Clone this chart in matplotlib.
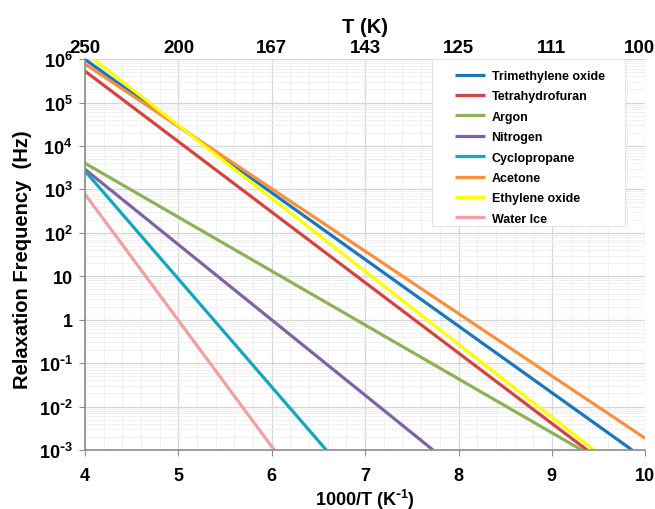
import numpy as np
import matplotlib
matplotlib.use("Agg")
import matplotlib.pyplot as plt
import matplotlib.transforms as mtransforms
from matplotlib.patches import Rectangle
from matplotlib.ticker import FixedLocator, NullFormatter

plt.rcParams['font.family'] = ['Liberation Sans', 'DejaVu Sans']
plt.rcParams['font.weight'] = 'bold'
plt.rcParams['mathtext.default'] = 'regular'

# ── Data: each line as (x0, log10 f0) -> (x1, log10 f1) ──────────────────────
names = ["Trimethylene oxide", "Tetrahydrofuran", "Argon", "Nitrogen",
         "Cyclopropane", "Acetone", "Ethylene oxide", "Water Ice"]
colors = ["#1A78B8", "#D4433F", "#8DB255", "#8064A2",
          "#14A6BE", "#F7913D", "#FFFF00", "#F0A0A0"]
x_start = [4.0, 4.0, 4.0, 4.0, 4.0, 4.0, 4.09, 4.0]
logf_start = [5.99, 5.72, 3.60, 3.46, 3.42, 5.885, 6.0, 2.885]
x_end = [9.86, 9.377, 9.32, 7.727, 6.583, 10.0, 9.45, 6.026]
logf_end = [-3.0, -3.0, -3.0, -3.0, -3.0, -2.73, -3.0, -3.0]

y_ticks = [1e-3, 1e-2, 1e-1, 1, 10, 1e2, 1e3, 1e4, 1e5, 1e6]
y_labels = [r"10$^{\text{-}3}$", r"10$^{\text{-}2}$", r"10$^{\text{-}1}$",
            "1", "10", "10$^{2}$", "10$^{3}$", "10$^{4}$", "10$^{5}$",
            "10$^{6}$"]
x_ticks = [4, 5, 6, 7, 8, 9, 10]
t_labels = ["250", "200", "167", "143", "125", "111", "100"]

# ── Figure ────────────────────────────────────────────────────────────────────
fig = plt.figure(figsize=(6.55, 5.10), dpi=100)
ax = fig.add_axes([0.13, 0.1157, 0.855, 0.7665])

for n, c, xs, ys, xe, ye in zip(names, colors, x_start, logf_start, x_end, logf_end):
    ax.plot([xs, xe], [10 ** ys, 10 ** ye], color=c, lw=2.3, label=n,
            solid_capstyle='butt')

ax.set_yscale('log')
ax.set_xlim(4, 10)
ax.set_ylim(1e-3, 1e6)

ax.set_yticks(y_ticks)
ax.set_yticklabels(y_labels)
ax.yaxis.set_minor_locator(FixedLocator(
    [m * 10.0 ** e for e in range(-3, 6) for m in range(2, 10)]))
ax.yaxis.set_minor_formatter(NullFormatter())
ax.set_xticks(x_ticks)
ax.xaxis.set_minor_locator(FixedLocator(np.arange(4, 10.01, 0.2)))

ax.grid(which='major', color='#D6D6D6', lw=0.9)
ax.grid(which='minor', color='#EFEFEF', lw=0.6)
ax.set_axisbelow(True)

ax.tick_params(which='major', direction='out', length=4, color='#8C8C8C',
               labelsize=13)
ax.tick_params(axis='x', which='major', pad=8)
ax.tick_params(axis='y', which='major', pad=5)
ax.tick_params(which='minor', length=0)
for s in ['top', 'right']:
    ax.spines[s].set_visible(False)
for s in ['left', 'bottom']:
    ax.spines[s].set_color('#8C8C8C')
    ax.spines[s].set_linewidth(1.2)

ax.set_xlabel(r"1000/T (K$^{\text{-}1}$)", fontsize=13, fontweight='bold',
              labelpad=2)
ax.set_ylabel("Relaxation Frequency  (Hz)", fontsize=14.5, fontweight='bold')
ax.yaxis.set_label_coords(-0.0946, 0.49)

# top axis: temperature
top = ax.twiny()
top.set_xlim(ax.get_xlim())
top.set_xticks(x_ticks)
top.set_xticklabels(t_labels)
top.tick_params(length=0, labelsize=13.5, pad=2)
for s in top.spines.values():
    s.set_visible(False)
top.set_xlabel("T (K)", fontsize=14.5, fontweight='bold', labelpad=5)
last = top.get_xticklabels()[-1]
last.set_transform(last.get_transform() +
                   mtransforms.ScaledTranslation(-6 / 100, 0, fig.dpi_scale_trans))

# legend box drawn by hand so the padding matches
ax.add_patch(Rectangle((0.6196, 0.573), 0.3446, 0.427, transform=ax.transAxes,
                       facecolor='white', edgecolor='#E4E4E4', lw=0.8,
                       zorder=3))
leg = ax.legend(loc='upper left', bbox_to_anchor=(0.661, 0.972), fontsize=9,
                frameon=False, handlelength=2.4, handletextpad=0.5,
                labelspacing=0.67, borderpad=0, borderaxespad=0)
leg.set_zorder(4)
for t in leg.get_texts():
    t.set_fontweight('bold')

fig.savefig("out.png", dpi=100)
